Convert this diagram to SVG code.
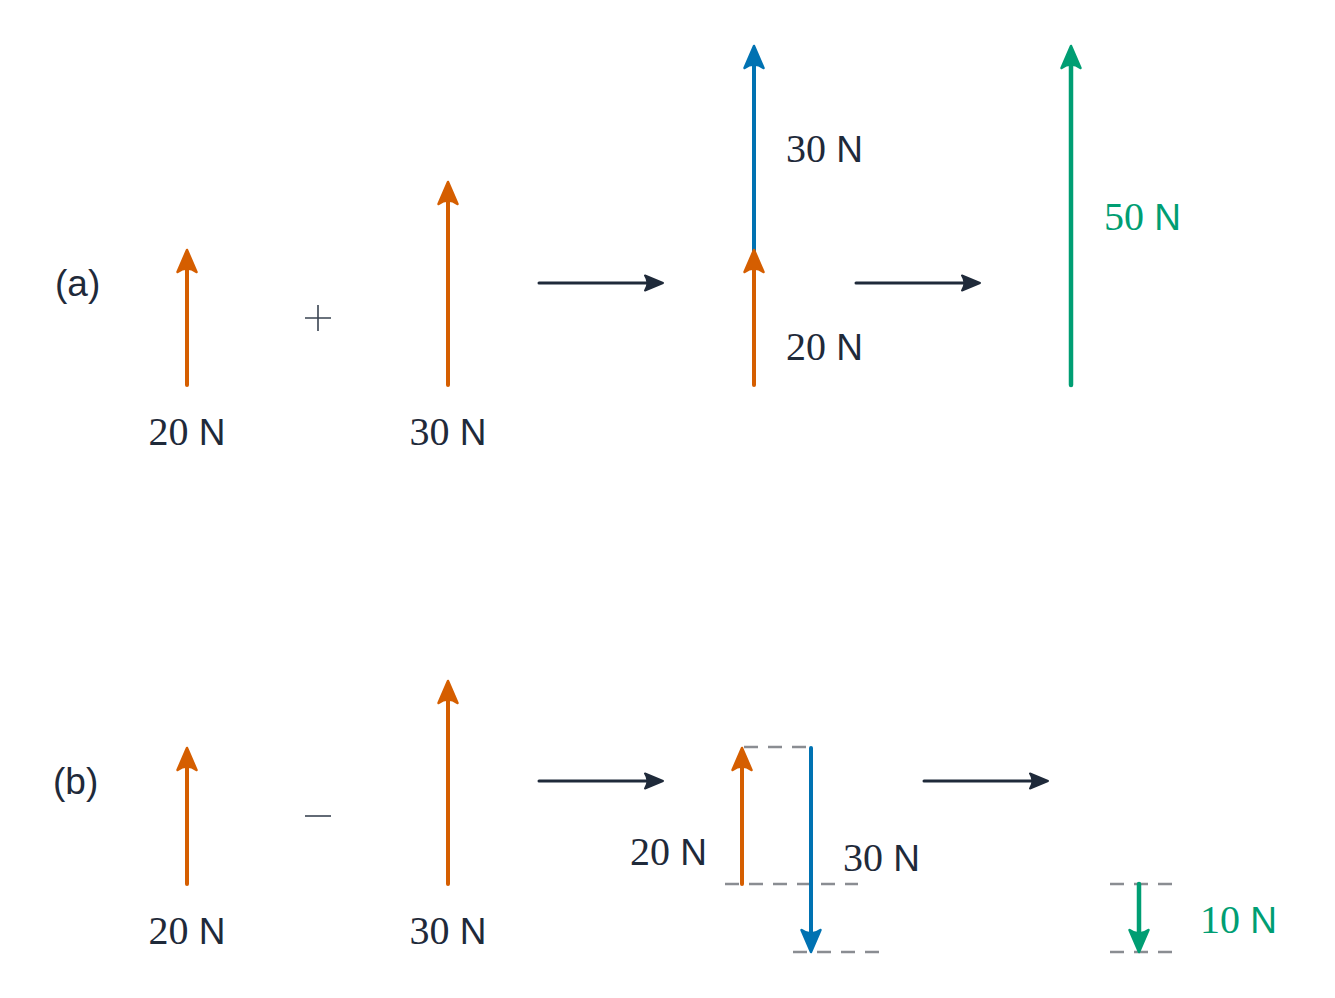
<svg xmlns="http://www.w3.org/2000/svg" width="1335" height="998" viewBox="0 0 1335 998">
<style>
.lbl{font-family:"Liberation Sans",sans-serif;font-size:37px;fill:#1f2a3a}
.n{font-family:"Liberation Serif","DejaVu Serif",serif;font-size:40px}
.tag{font-family:"Liberation Sans","DejaVu Sans",sans-serif;font-size:37px;fill:#1f2a3a}
.g{fill:#009E73}
.vo{stroke:#D55E00;stroke-width:4;stroke-linecap:round;fill:none}
.vb{stroke:#0072B2;stroke-width:4;stroke-linecap:round;fill:none}
.vg{stroke:#009E73;stroke-width:4.5;stroke-linecap:round;fill:none}
.ho{fill:#D55E00;stroke:#D55E00}
.hb{fill:#0072B2;stroke:#0072B2}
.hg{fill:#009E73;stroke:#009E73}
.head{stroke-width:2.5;stroke-linejoin:round}
.conn{stroke:#1f2a3a;stroke-width:3;fill:none;stroke-linecap:round}
.ch{fill:#1f2a3a;stroke:#1f2a3a;stroke-width:2;stroke-linejoin:round}
.dash{stroke:#8a8d92;stroke-width:2.5;stroke-dasharray:14 10;fill:none}
.op{stroke:#3a4452;stroke-width:1.6;fill:none}
</style>
<defs>
<path id="hu" d="M0,0 L9.5,22 Q0,15 -9.5,22 Z"/>
<path id="hd" d="M0,0 L9.5,-22 Q0,-15 -9.5,-22 Z"/>
<path id="hr" d="M0,0 L-18,-7.5 Q-13,0 -18,7.5 Z"/>
</defs>

<g id="connectors">
<path class="conn" d="M539,283 H652"/><use href="#hr" x="663" y="283" class="ch"/>
<path class="conn" d="M856,283 H969"/><use href="#hr" x="980" y="283" class="ch"/>
<path class="conn" d="M539,781 H652"/><use href="#hr" x="663" y="781" class="ch"/>
<path class="conn" d="M924,781 H1037"/><use href="#hr" x="1048" y="781" class="ch"/>
</g>

<g id="label-a"><text class="tag" x="55" y="296">(a)</text></g>
<g id="label-b"><text class="tag" x="53" y="794">(b)</text></g>

<g id="a-f20">
<line class="vo" x1="187" y1="385" x2="187" y2="264"/>
<use href="#hu" x="187" y="250" class="ho head"/>
<text class="lbl" x="187" y="445" text-anchor="middle"><tspan class="n">20</tspan> N</text>
</g>
<g id="a-plus"><path class="op" d="M305,318 H331 M318,305 V331"/></g>
<g id="a-f30">
<line class="vo" x1="448" y1="385" x2="448" y2="196"/>
<use href="#hu" x="448" y="182" class="ho head"/>
<text class="lbl" x="448" y="445" text-anchor="middle"><tspan class="n">30</tspan> N</text>
</g>
<g id="a-sum">
<line class="vo" x1="754" y1="385" x2="754" y2="264"/>
<line class="vb" x1="754" y1="252" x2="754" y2="60"/>
<use href="#hu" x="754" y="250" class="ho head"/>
<use href="#hu" x="754" y="46" class="hb head"/>
<text class="lbl" x="786" y="162"><tspan class="n">30</tspan> N</text>
<text class="lbl" x="786" y="360"><tspan class="n">20</tspan> N</text>
</g>
<g id="a-result">
<line class="vg" x1="1071" y1="385" x2="1071" y2="60"/>
<use href="#hu" x="1071" y="46" class="hg head"/>
<text class="lbl g" x="1104" y="230"><tspan class="n">50</tspan> N</text>
</g>

<g id="b-f20">
<line class="vo" x1="187" y1="884" x2="187" y2="762"/>
<use href="#hu" x="187" y="748" class="ho head"/>
<text class="lbl" x="187" y="944" text-anchor="middle"><tspan class="n">20</tspan> N</text>
</g>
<g id="b-minus"><path class="op" d="M305,816 H331"/></g>
<g id="b-f30">
<line class="vo" x1="448" y1="884" x2="448" y2="695"/>
<use href="#hu" x="448" y="681" class="ho head"/>
<text class="lbl" x="448" y="944" text-anchor="middle"><tspan class="n">30</tspan> N</text>
</g>
<g id="b-diff">
<path class="dash" d="M744,747 H811"/>
<path class="dash" d="M725,884 H858"/>
<path class="dash" d="M793,952 H879"/>
<line class="vo" x1="742" y1="884" x2="742" y2="762"/>
<use href="#hu" x="742" y="748" class="ho head"/>
<line class="vb" x1="811" y1="748" x2="811" y2="938"/>
<use href="#hd" x="811" y="952" class="hb head"/>
<text class="lbl" x="630" y="865"><tspan class="n">20</tspan> N</text>
<text class="lbl" x="843" y="871"><tspan class="n">30</tspan> N</text>
</g>
<g id="b-result">
<path class="dash" d="M1110,884 H1172"/>
<path class="dash" d="M1110,952 H1172"/>
<line class="vg" x1="1139" y1="884" x2="1139" y2="938"/>
<use href="#hd" x="1139" y="952" class="hg head"/>
<text class="lbl g" x="1200" y="933"><tspan class="n">10</tspan> N</text>
</g>
</svg>
